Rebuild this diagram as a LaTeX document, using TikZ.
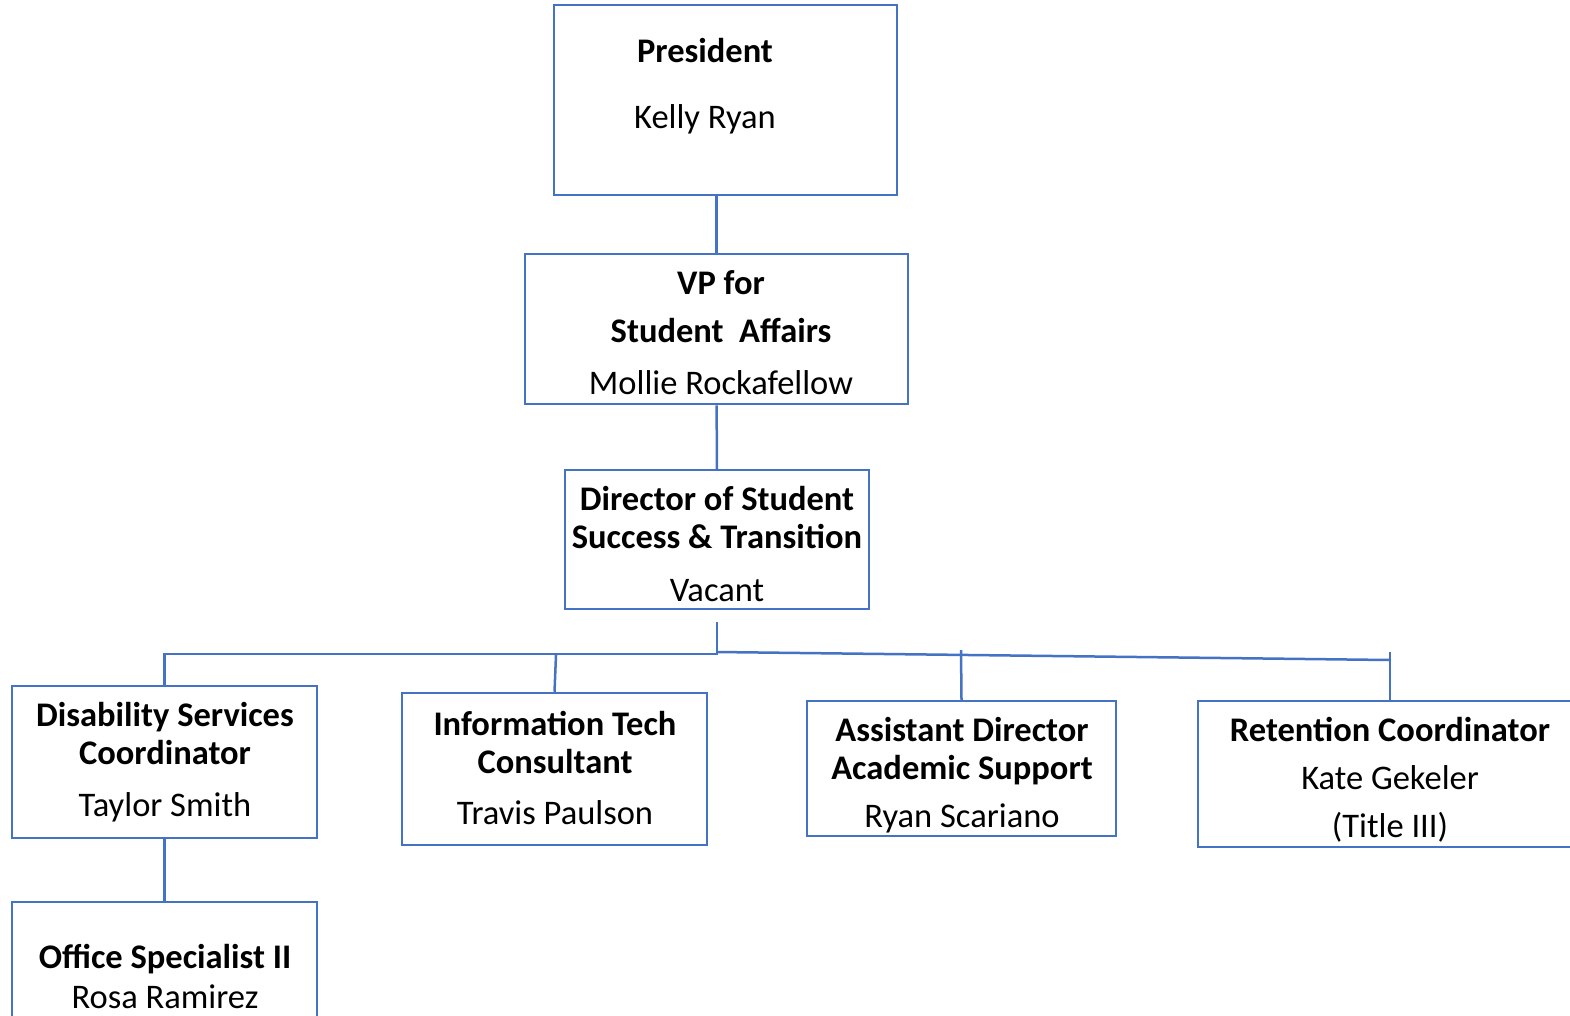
\documentclass[tikz,border=0pt]{standalone}
\usepackage{fontspec}
\setmainfont{Carlito}
\usepackage{xcolor}
\usetikzlibrary{positioning}
\definecolor{orgblue}{HTML}{4472C4}

\begin{document}
\begin{tikzpicture}[x=1pt, y=-1pt,
    box/.style={draw=orgblue, line width=2.5pt, rectangle, inner sep=0pt},
    lbl/.style={align=center, inner sep=0pt, font=\fontsize{34.5}{38}\selectfont},
    link/.style={draw=orgblue, line width=2.5pt}]

    \useasboundingbox (0,0) rectangle (1570,1015);
    \clip (0,0) rectangle (1570,1015);

    % boxes
    \node[box, minimum width=343pt, minimum height=190pt] (pres) at (725.5,100) {};
    \node[box, minimum width=383pt, minimum height=150pt] (vp) at (716.5,329) {};
    \node[box, minimum width=304pt, minimum height=139pt] (dir) at (717,539.5) {};
    \node[box, minimum width=305pt, minimum height=152pt] (dis) at (164.5,762) {};
    \node[box, minimum width=305pt, minimum height=152pt] (itc) at (554.5,769) {};
    \node[box, minimum width=309pt, minimum height=135pt] (asd) at (961.5,768.5) {};
    \node[box, minimum width=384pt, minimum height=146pt] (ret) at (1390,774) {};
    \node[box, minimum width=305pt, minimum height=140pt] (ofs) at (164.5,972) {};

    % texts
    \node[lbl] (prestxt) at (705,86) {\textbf{President}\\[28pt]Kelly Ryan};
    \node[lbl] (vptxt) at (721,333) {\textbf{VP for}\\[10pt]\textbf{Student\ \ Affairs}\\[14pt]Mollie Rockafellow};
    \node[lbl] (dirtxt) at (717,544) {\textbf{Director of Student}\\\textbf{Success \& Transition}\\[15pt]Vacant};
    \node[lbl] (distxt) at (165,762) {\textbf{Disability Services}\\\textbf{Coordinator}\\[14pt]Taylor Smith};
    \node[lbl] (itctxt) at (555,768) {\textbf{Information Tech}\\\textbf{Consultant}\\[13pt]Travis Paulson};
    \node[lbl] (asdtxt) at (962,775) {\textbf{Assistant Director}\\\textbf{Academic Support}\\[10pt]Ryan Scariano};
    \node[lbl] (rettxt) at (1390,780) {\textbf{Retention Coordinator}\\[10pt]Kate Gekeler\\[10pt](Title III)};
    \node[lbl] (ofstxt) at (165,976) {\textbf{Office Specialist II}\\[2pt]Rosa Ramirez};

    % connector points
    \coordinate (hub) at (717,622);
    \coordinate (busl) at (717,654);
    \coordinate (busr) at (717,652);
    \coordinate (itjoin) at (556,655);
    \coordinate (asdjoin) at (961,650);
    \coordinate (retjoin) at (1390,652);
    \coordinate (retend) at (1390,660);

    \draw[link] (pres.south -| vp.north) -- (vp.north);
    \draw[link] (vp) -- (dir);
    \draw[link] (hub) -- (busl) -- (busl -| dis.north) -- (dis.north);
    \draw[link] (itjoin) -- (itc.north);
    \draw[link] (busr) -- (retend);
    \draw[link] (asdjoin) -- (asd.north);
    \draw[link] (retjoin) -- (ret.north);
    \draw[link] (dis) -- (ofs);

\end{tikzpicture}
\end{document}
